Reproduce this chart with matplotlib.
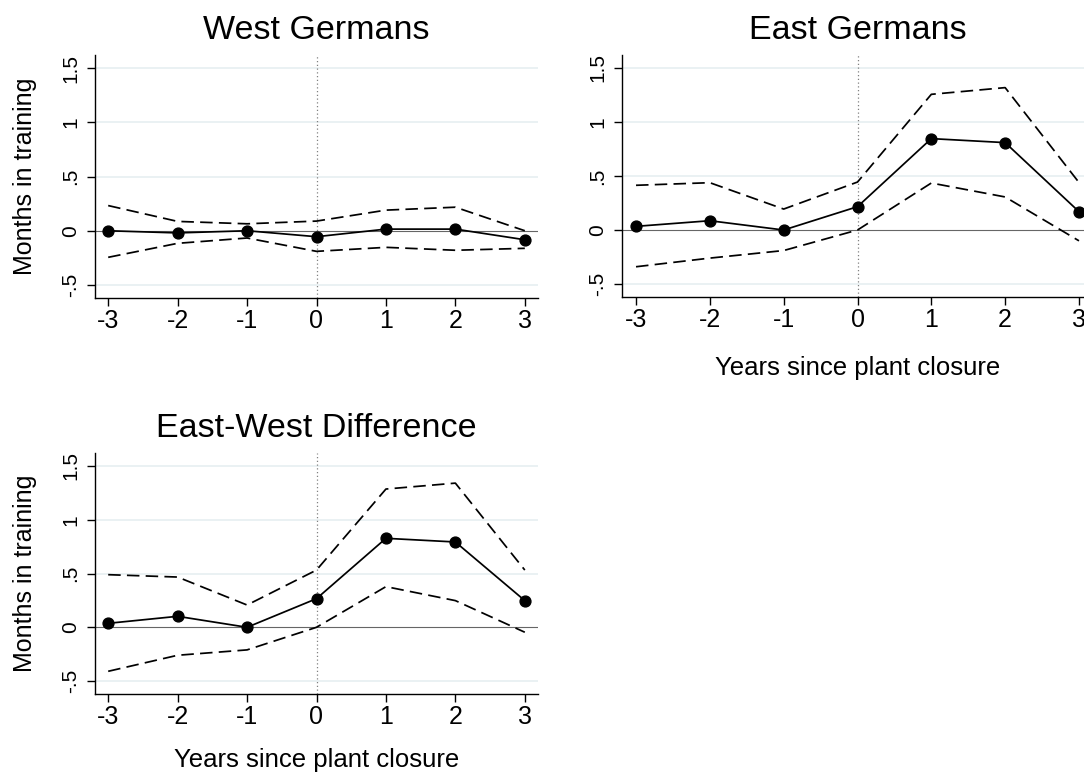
import numpy as np
from matplotlib import pyplot as plt

plt.rcParams['font.family'] = ['Liberation Sans', 'DejaVu Sans']

# Years relative to plant closure
annees = [-3, -2, -1, 0, 1, 2, 3]

# West Germans : estimate and 95% bands
ouest_coef = [0.0, -0.02, 0.0, -0.055, 0.015, 0.015, -0.083]
ouest_haut = [0.232, 0.086, 0.064, 0.089, 0.19, 0.217, 0.0]
ouest_bas = [-0.245, -0.116, -0.067, -0.19, -0.153, -0.18, -0.162]

# East Germans
est_coef = [0.034, 0.086, 0.0, 0.216, 0.846, 0.809, 0.17]
est_haut = [0.414, 0.438, 0.194, 0.444, 1.256, 1.318, 0.44]
est_bas = [-0.34, -0.26, -0.19, 0.0, 0.435, 0.306, -0.1]

# East-West difference
diff_coef = [0.037, 0.102, 0.0, 0.266, 0.827, 0.793, 0.248]
diff_haut = [0.489, 0.467, 0.207, 0.532, 1.285, 1.34, 0.532]
diff_bas = [-0.409, -0.26, -0.21, 0.0, 0.378, 0.248, -0.046]

yticks = [-0.5, 0, 0.5, 1, 1.5]
ylabels = ['-.5', '0', '.5', '1', '1.5']

W = 1084.0
H = 773.0


def panneau(rect, titre, coef, haut, bas, ytitre=None, xtitre=None, xdecal=59.0):
    ax = fig.add_axes([rect[0] / W, 1 - rect[3] / H, (rect[2] - rect[0]) / W, (rect[3] - rect[1]) / H])
    ax.set_xlim(-3.19, 3.19)
    ax.set_ylim(-0.62, 1.62)

    # horizontal grid, reference lines
    for yv in [-0.5, 0.5, 1, 1.5]:
        ax.axhline(yv, color='#e6eff1', lw=1.2, zorder=0)
    ax.axhline(0, color='#666666', lw=0.8, zorder=1)
    ax.axvline(0, color='#808080', lw=0.9, ls=(0, (1, 2)), zorder=1)

    ax.plot(annees, haut, color='black', lw=1.25, dashes=(7.2, 3.6), zorder=2)
    ax.plot(annees, bas, color='black', lw=1.25, dashes=(7.2, 3.6), zorder=2)
    ax.plot(annees, coef, color='black', lw=1.25, marker='o', ms=7.8, zorder=3)

    ax.set_title(titre, fontsize=24.5, pad=11.5)
    ax.set_xticks(annees)
    ax.set_xticklabels([str(a) for a in annees])
    ax.set_yticks(yticks)
    ax.set_yticklabels(ylabels)
    ax.tick_params(axis='x', labelsize=18, length=5.8, width=1, pad=2)
    ax.tick_params(axis='y', labelsize=15, length=5.8, width=1, pad=5)
    for lab in ax.get_yticklabels():
        lab.set_rotation(90)
        lab.set_va('center')

    ax.spines['top'].set_visible(False)
    ax.spines['right'].set_visible(False)
    ax.spines['left'].set_linewidth(1)
    ax.spines['bottom'].set_linewidth(1)

    if ytitre:
        ax.set_ylabel(ytitre, fontsize=18)
        ax.yaxis.set_label_coords((37 - rect[0]) / (rect[2] - rect[0]), 0.5)
    if xtitre:
        ax.set_xlabel(xtitre, fontsize=18.5)
        ax.xaxis.set_label_coords(0.5, -xdecal / (rect[3] - rect[1]))
    return ax


fig = plt.figure(figsize=(W / 100, H / 100), dpi=100)

panneau([95, 55, 538, 298], 'West Germans', ouest_coef, ouest_haut, ouest_bas,
        ytitre='Months in training')
panneau([622, 55, 1093, 297], 'East Germans', est_coef, est_haut, est_bas,
        xtitre='Years since plant closure')
panneau([95, 453, 538, 694], 'East-West Difference', diff_coef, diff_haut, diff_bas,
        ytitre='Months in training', xtitre='Years since plant closure', xdecal=54.0)

plt.savefig('out.png', dpi=100)
